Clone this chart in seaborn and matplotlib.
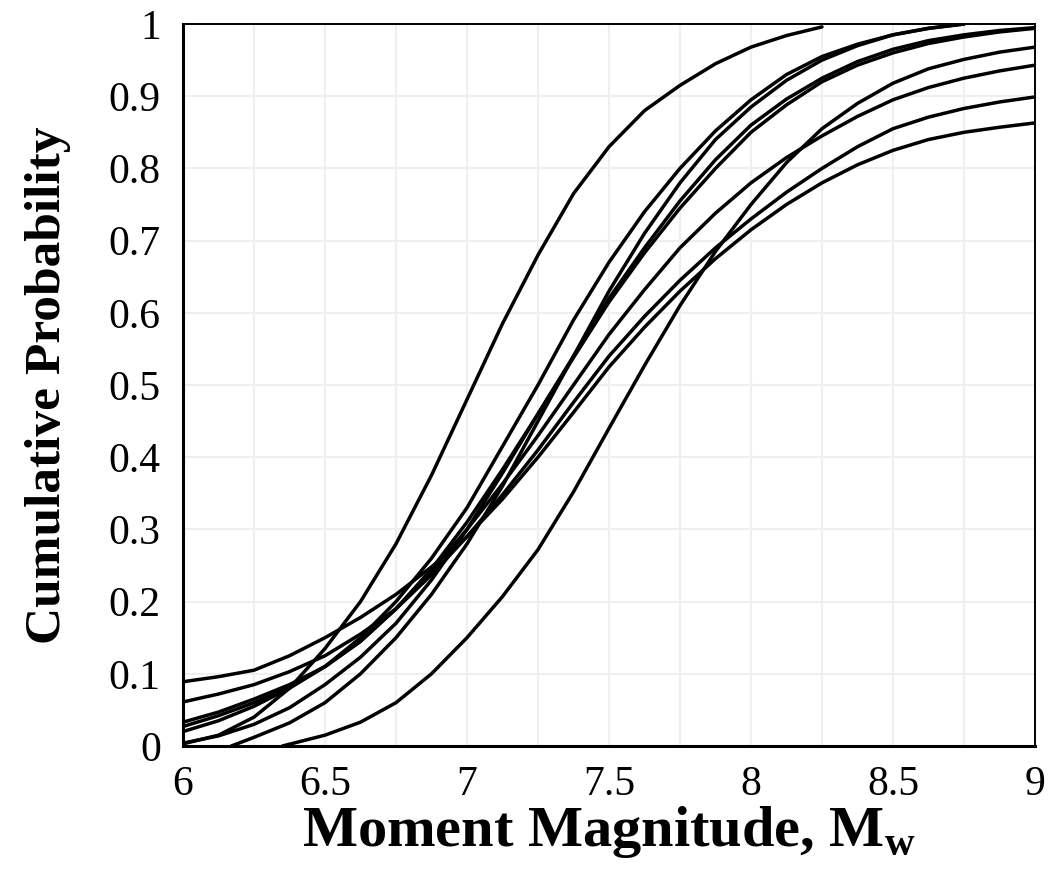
import numpy as np
import pandas as pd
import matplotlib
matplotlib.use("Agg")
import matplotlib.pyplot as plt
import seaborn as sns

# Read-off cumulative probability curves (Moment magnitude vs probability)
mag_A = [6.0, 6.125, 6.25, 6.375, 6.5, 6.625, 6.75, 6.875, 7.0, 7.125, 7.25,
         7.375, 7.5, 7.625, 7.75, 7.875, 8.0, 8.125, 8.25]
cdf_A = [0.003, 0.015, 0.04, 0.08, 0.135, 0.2, 0.28, 0.375, 0.48, 0.585, 0.68,
         0.765, 0.83, 0.88, 0.915, 0.945, 0.968, 0.984, 0.996]

mag_B1 = [6.0, 6.125, 6.25, 6.375, 6.5, 6.625, 6.75, 6.875, 7.0, 7.125, 7.25,
          7.375, 7.5, 7.625, 7.75, 7.875, 8.0, 8.125, 8.25, 8.375, 8.5, 8.625, 8.75]
cdf_B1 = [0.02, 0.035, 0.055, 0.08, 0.11, 0.15, 0.2, 0.26, 0.33, 0.415, 0.5,
          0.59, 0.67, 0.74, 0.8, 0.852, 0.895, 0.93, 0.955, 0.972, 0.985, 0.994, 1.0]

mag_B2 = [6.17, 6.25, 6.375, 6.5, 6.625, 6.75, 6.875, 7.0, 7.125, 7.25,
          7.375, 7.5, 7.625, 7.75, 7.875, 8.0, 8.125, 8.25, 8.375, 8.5, 8.625, 8.75]
cdf_B2 = [0.0, 0.012, 0.032, 0.06, 0.1, 0.15, 0.21, 0.28, 0.36, 0.45,
          0.54, 0.63, 0.71, 0.78, 0.84, 0.885, 0.922, 0.95, 0.97, 0.985, 0.994, 1.0]

mag_full = [6.0, 6.125, 6.25, 6.375, 6.5, 6.625, 6.75, 6.875, 7.0, 7.125, 7.25,
            7.375, 7.5, 7.625, 7.75, 7.875, 8.0, 8.125, 8.25, 8.375, 8.5, 8.625,
            8.75, 8.875, 9.0]
cdf_C1 = [0.004, 0.014, 0.03, 0.053, 0.085, 0.123, 0.17, 0.23, 0.3, 0.378, 0.46,
          0.54, 0.62, 0.69, 0.755, 0.812, 0.86, 0.896, 0.925, 0.948, 0.965, 0.977,
          0.985, 0.991, 0.995]
cdf_C2 = [0.027, 0.042, 0.06, 0.082, 0.11, 0.145, 0.19, 0.245, 0.31, 0.383, 0.46,
          0.538, 0.615, 0.683, 0.745, 0.8, 0.85, 0.888, 0.92, 0.943, 0.96, 0.973,
          0.982, 0.989, 0.994]
cdf_E = [0.033, 0.047, 0.065, 0.085, 0.11, 0.145, 0.19, 0.242, 0.3, 0.363, 0.43,
         0.5, 0.57, 0.632, 0.69, 0.738, 0.78, 0.815, 0.845, 0.872, 0.895, 0.912,
         0.925, 0.935, 0.943]
cdf_F = [0.061, 0.072, 0.085, 0.103, 0.125, 0.155, 0.19, 0.237, 0.29, 0.348, 0.41,
         0.476, 0.54, 0.595, 0.645, 0.69, 0.73, 0.767, 0.8, 0.83, 0.855, 0.871,
         0.883, 0.892, 0.899]
cdf_G = [0.089, 0.096, 0.105, 0.125, 0.15, 0.178, 0.21, 0.248, 0.29, 0.342, 0.4,
         0.462, 0.525, 0.58, 0.63, 0.675, 0.715, 0.75, 0.78, 0.805, 0.825, 0.84,
         0.85, 0.857, 0.863]

mag_R = [6.35, 6.5, 6.625, 6.75, 6.875, 7.0, 7.125, 7.25, 7.375, 7.5, 7.625,
         7.75, 7.875, 8.0, 8.125, 8.25, 8.375, 8.5, 8.625, 8.75, 8.875, 9.0]
cdf_R = [0.0, 0.015, 0.033, 0.06, 0.1, 0.15, 0.207, 0.272, 0.352, 0.44, 0.527,
         0.61, 0.685, 0.75, 0.808, 0.855, 0.89, 0.918, 0.938, 0.951, 0.961, 0.968]

x_ticks = [6, 6.5, 7, 7.5, 8, 8.5, 9]
x_tick_labels = ["6", "6.5", "7", "7.5", "8", "8.5", "9"]
y_ticks = [0, 0.1, 0.2, 0.3, 0.4, 0.5, 0.6, 0.7, 0.8, 0.9, 1.0]
y_tick_labels = ["0", "0.1", "0.2", "0.3", "0.4", "0.5", "0.6", "0.7", "0.8", "0.9", "1"]

curves = {
    "A": (mag_A, cdf_A), "B1": (mag_B1, cdf_B1), "B2": (mag_B2, cdf_B2),
    "C1": (mag_full, cdf_C1), "C2": (mag_full, cdf_C2), "E": (mag_full, cdf_E),
    "F": (mag_full, cdf_F), "G": (mag_full, cdf_G), "R": (mag_R, cdf_R),
}
rows = []
for name, (xs, ys) in curves.items():
    for x, y in zip(xs, ys):
        rows.append({"curve": name, "Mw": x, "P": y})
df = pd.DataFrame(rows)

sns.set_theme(style="white")
plt.rcParams["font.family"] = ["Liberation Serif", "DejaVu Serif"]
plt.rcParams["mathtext.fontset"] = "custom"
plt.rcParams["mathtext.rm"] = "Liberation Serif"
plt.rcParams["mathtext.bf"] = "Liberation Serif:bold"
plt.rcParams["text.color"] = "black"
plt.rcParams["axes.labelcolor"] = "black"

fig = plt.figure(figsize=(10.5, 8.76), dpi=100)
ax = fig.add_axes([0.1743, 0.1484, 0.8114, 0.8242])

sns.lineplot(data=df, x="Mw", y="P", units="curve", estimator=None,
             color="black", linewidth=2.5, sort=False, ax=ax, legend=False)

ax.set_xlim(6, 9)
ax.set_ylim(0, 1)
ax.set_xticks(x_ticks)
ax.set_xticklabels(x_tick_labels)
ax.set_yticks(y_ticks)
ax.set_yticklabels(y_tick_labels)
ax.set_xticks(np.arange(6, 9.01, 0.25), minor=True)
ax.grid(True, which="both", axis="x", color="#efefef", linewidth=1.5)
ax.grid(True, which="major", axis="y", color="#efefef", linewidth=1.5)
ax.set_axisbelow(True)
ax.tick_params(axis="both", which="both", length=0, labelsize=30,
               colors="black", labelcolor="black")
ax.tick_params(axis="x", pad=14)
ax.tick_params(axis="y", pad=16)

for side in ["left", "bottom"]:
    ax.spines[side].set_color("black")
    ax.spines[side].set_linewidth(2.2)
for side in ["top", "right"]:
    ax.spines[side].set_visible(True)
    ax.spines[side].set_color("black")
    ax.spines[side].set_linewidth(1.4)

ax.set_xlabel(r"Moment Magnitude, M$_\mathbf{w}$", fontsize=42,
              fontweight="bold", labelpad=0, color="black")
ax.set_ylabel("Cumulative Probability", fontsize=37, fontweight="bold",
              labelpad=27, color="black")

fig.savefig("out.png", dpi=100, facecolor="white")
